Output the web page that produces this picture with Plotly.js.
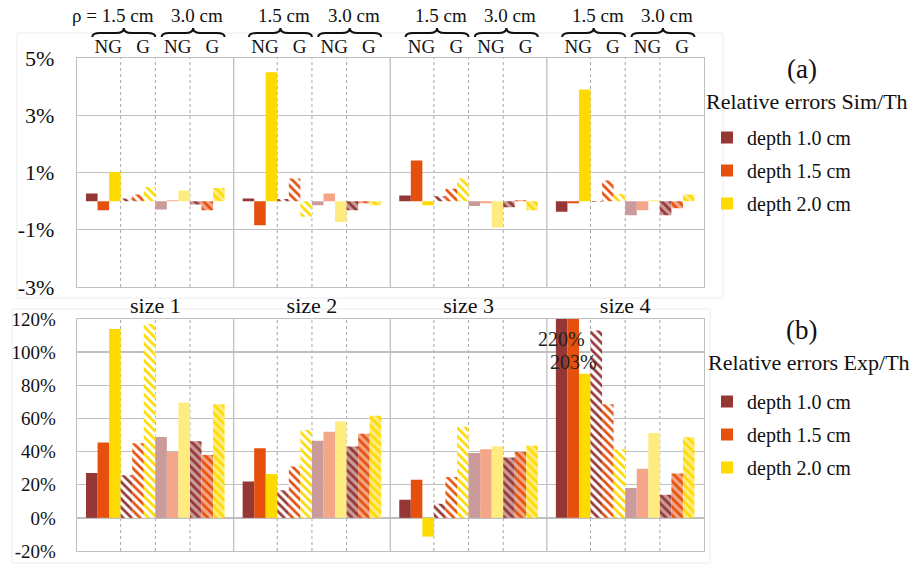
<!DOCTYPE html>
<html><head><meta charset="utf-8">
<script src="https://cdn.plot.ly/plotly-3.0.1.min.js"></script>
<style>body{margin:0;background:#fff}#chart{width:913px;height:565px}</style>
</head><body><div id="chart"></div>
<script>
// ---------- categories ----------
const sizes = ['size 1', 'size 2', 'size 3', 'size 4'];
const depths = ['depth 1.0 cm', 'depth 1.5 cm', 'depth 2.0 cm'];
const rhoLabels = ['1.5 cm', '3.0 cm'];
const subLabels = ['NG', 'G', 'NG', 'G'];

// ---------- panel (a): Relative errors Sim/Th (%) ; values for size 1..4 ----------
const simTh_r15_NG_d10 = [0.27, 0.09, 0.20, -0.37];
const simTh_r15_NG_d15 = [-0.32, -0.84, 1.42, -0.07];
const simTh_r15_NG_d20 = [1.02, 4.50, -0.14, 3.90];
const simTh_r15_G_d10  = [0.09, 0.07, 0.17, -0.03];
const simTh_r15_G_d15  = [0.23, 0.79, 0.43, 0.72];
const simTh_r15_G_d20  = [0.49, -0.55, 0.79, 0.25];
const simTh_r30_NG_d10 = [-0.29, -0.14, -0.17, -0.49];
const simTh_r30_NG_d15 = [0.03, 0.27, -0.07, -0.32];
const simTh_r30_NG_d20 = [0.37, -0.73, -0.92, 0.03];
const simTh_r30_G_d10  = [-0.12, -0.32, -0.21, -0.49];
const simTh_r30_G_d15  = [-0.32, -0.07, 0.03, -0.25];
const simTh_r30_G_d20  = [0.46, -0.14, -0.32, 0.23];

// ---------- panel (b): Relative errors Exp/Th (%) ; values for size 1..4 ----------
const expTh_r15_NG_d10 = [27, 22, 11, 220];
const expTh_r15_NG_d15 = [45.5, 42, 23, 203];
const expTh_r15_NG_d20 = [114, 26.5, -11.3, 87];
const expTh_r15_G_d10  = [25.7, 16.6, 8.5, 113];
const expTh_r15_G_d15  = [45, 31, 24.7, 68.5];
const expTh_r15_G_d20  = [117, 53, 55, 41.4];
const expTh_r30_NG_d10 = [48.8, 46.5, 39.2, 18];
const expTh_r30_NG_d15 = [39.7, 52, 41.4, 29.7];
const expTh_r30_NG_d20 = [69.4, 58.2, 43, 51.2];
const expTh_r30_G_d10  = [46.3, 43, 36.4, 14];
const expTh_r30_G_d15  = [37.9, 50.8, 39.8, 26.7];
const expTh_r30_G_d20  = [68.6, 61.6, 43.5, 48.6];

// y tick labels
const tickValsA = [-3, -1, 1, 3, 5];
const tickTextA = ['-3%', '-1%', '1%', '3%', '5%'];
const tickValsB = [-20, 0, 20, 40, 60, 80, 100, 120];
const tickTextB = ['-20%', '0%', '20%', '40%', '60%', '80%', '100%', '120%'];

// ---------- styling ----------
const W = 913, H = 565;
const FONT = 'Liberation Serif';
const colorsFull = ['#953735', '#E6500C', '#FFDA00'];
const colorsLight = ['#CA9B9A', '#F3A688', '#FFEC80'];
const GRID = '#bfbfbf';
const bargap = 0.115;
const inner = 1 - bargap;
const px2x = p => p / W;
const px2y = p => 1 - p / H;

const dataA = [
  [simTh_r15_NG_d10, simTh_r15_NG_d15, simTh_r15_NG_d20],
  [simTh_r15_G_d10, simTh_r15_G_d15, simTh_r15_G_d20],
  [simTh_r30_NG_d10, simTh_r30_NG_d15, simTh_r30_NG_d20],
  [simTh_r30_G_d10, simTh_r30_G_d15, simTh_r30_G_d20]
];
const dataB = [
  [expTh_r15_NG_d10, expTh_r15_NG_d15, expTh_r15_NG_d20],
  [expTh_r15_G_d10, expTh_r15_G_d15, expTh_r15_G_d20],
  [expTh_r30_NG_d10, expTh_r30_NG_d15, expTh_r30_NG_d20],
  [expTh_r30_G_d10, expTh_r30_G_d15, expTh_r30_G_d20]
];
const sizeIdx = sizes.map((_, i) => i);

const traces = [];
function addPanel(data, xa, ya, legendName) {
  data.forEach((sub, s) => {
    sub.forEach((vals, d) => {
      const hatched = s % 2 === 1;
      const light = s >= 2;
      const marker = { color: light ? colorsLight[d] : colorsFull[d], line: { width: 0 } };
      if (hatched) {
        marker.pattern = { shape: '\\', fgcolor: colorsFull[d], bgcolor: light ? colorsLight[d] : '#ffffff',
                           size: 6, solidity: 0.45, fillmode: 'replace' };
      }
      traces.push({
        type: 'bar', x: sizeIdx, y: vals, xaxis: xa, yaxis: ya,
        name: depths[d], showlegend: s === 0, legend: legendName,
        legendgroup: legendName + '_' + d, marker: marker, hoverinfo: 'skip'
      });
    });
  });
}
addPanel(dataA, 'x', 'y', 'legend');
addPanel(dataB, 'x2', 'y2', 'legend2');

// sub-group geometry
const subStart = (i, k) => i - 0.5 + bargap / 2 + k * inner / 4;
const subCenters = [], subTicks = [];
sizeIdx.forEach(i => subLabels.forEach((lab, k) => { subCenters.push(subStart(i, k + 0.5)); subTicks.push(lab); }));

const shapes = [];
// dotted separators between sub-groups, solid between sizes
[['x', 'y domain'], ['x2', 'y2 domain']].forEach(([xr, yr]) => {
  sizeIdx.forEach(i => {
    [1, 2, 3].forEach(k => {
      shapes.push({ type: 'line', xref: xr, yref: yr, x0: subStart(i, k), x1: subStart(i, k),
        y0: 0, y1: 1, layer: 'below', line: { color: '#a6a6a6', width: 1, dash: 'dot' } });
    });
    if (i < sizeIdx.length - 1) {
      shapes.push({ type: 'line', xref: xr, yref: yr, x0: i + 0.5, x1: i + 0.5,
        y0: 0, y1: 1, layer: 'below', line: { color: GRID, width: 1.3 } });
    }
  });
});
// braces over the rho pairs
function brace(x0, x1) {
  const yE = px2y(37), yB = px2y(33), yT = px2y(28);
  const xm = (x0 + x1) / 2, d = 0.05;
  return `M ${x0},${yE} Q ${x0},${yB} ${x0 + d},${yB} L ${xm - d},${yB} Q ${xm},${yB} ${xm},${yT} ` +
         `Q ${xm},${yB} ${xm + d},${yB} L ${x1 - d},${yB} Q ${x1},${yB} ${x1},${yE}`;
}
const annotations = [];
sizeIdx.forEach(i => {
  [0, 1].forEach(p => {
    const a = subStart(i, 2 * p) + 0.04, b = subStart(i, 2 * p + 2);
    shapes.push({ type: 'path', xref: 'x', yref: 'paper', path: brace(a, b), line: { color: '#111', width: 2 } });
    const first = (i === 0 && p === 0);
    annotations.push({ xref: 'x', yref: 'paper', x: subStart(i, 2 * p + 1), y: px2y(15),
      xanchor: 'center', yanchor: 'middle',
      text: (first ? 'ρ = ' : '') + rhoLabels[p], showarrow: false, xshift: first ? -8 : 7,
      font: { family: FONT, size: 19, color: '#111' } });
  });
});
// faint chart-area frames
shapes.push({ type: 'rect', xref: 'paper', yref: 'paper', x0: px2x(17), x1: px2x(723), y0: px2y(298), y1: px2y(33),
  line: { color: '#ececec', width: 1 }, layer: 'below' });
shapes.push({ type: 'rect', xref: 'paper', yref: 'paper', x0: px2x(12), x1: px2x(710), y0: px2y(563), y1: px2y(309),
  line: { color: '#ececec', width: 1 }, layer: 'below' });

// out-of-range value labels
[[expTh_r15_NG_d10, 0, 108], [expTh_r15_NG_d15, 1, 94]].forEach(([arr, d, yv]) => {
  annotations.push({ xref: 'x2', yref: 'y2', x: 3 - 0.5 + bargap / 2 + (d + 0.5) * inner / 12, y: yv,
    xanchor: 'center', yanchor: 'middle',
    text: arr[3] + '%', showarrow: false, font: { family: FONT, size: 20, color: '#222' } });
});
// panel titles
const paperText = (x, y, text, size, xanchor) => ({ xref: 'paper', yref: 'paper', x: px2x(x), y: px2y(y),
  xanchor: xanchor, yanchor: 'middle', text: text, showarrow: false, font: { family: FONT, size: size, color: '#111' } });
annotations.push(paperText(802, 69, '(a)', 27, 'center'));
annotations.push(paperText(704, 102, 'Relative errors Sim/Th', 22, 'left'));
annotations.push(paperText(801, 330, '(b)', 27, 'center'));
annotations.push(paperText(706, 362, 'Relative errors Exp/Th', 22, 'left'));

const xDom = [px2x(77), px2x(703.5)];
const axisCommon = { showline: true, mirror: true, linecolor: GRID, linewidth: 1.3, zeroline: false, automargin: false, fixedrange: true };
const layout = {
  width: W, height: H, margin: { l: 0, r: 0, t: 0, b: 0 },
  paper_bgcolor: '#fff', plot_bgcolor: '#fff',
  font: { family: FONT, color: '#111' },
  barmode: 'group', bargap: bargap, bargroupgap: 0,
  xaxis: Object.assign({}, axisCommon, { domain: xDom, anchor: 'y', range: [-0.5, 3.5], side: 'top',
    tickmode: 'array', tickvals: subCenters, ticktext: subTicks, ticks: '', showgrid: false,
    ticklabelshift: 5, ticklabelstandoff: -4, tickfont: { family: FONT, size: 19, color: '#111' } }),
  yaxis: Object.assign({}, axisCommon, { domain: [px2y(287), px2y(58)], anchor: 'x', range: [-3, 5],
    tickmode: 'array', tickvals: tickValsA, ticktext: tickTextA, showgrid: true, gridcolor: GRID, gridwidth: 1.3,
    ticks: '', ticklabelstandoff: 17, tickfont: { family: FONT, size: 22, color: '#111' } }),
  xaxis2: Object.assign({}, axisCommon, { domain: xDom, anchor: 'y2', range: [-0.5, 3.5], side: 'top',
    tickmode: 'array', tickvals: sizeIdx, ticktext: sizes, ticks: '', showgrid: false,
    ticklabelstandoff: -4, tickfont: { family: FONT, size: 22, color: '#111' } }),
  yaxis2: Object.assign({}, axisCommon, { domain: [px2y(551), px2y(319)], anchor: 'x2', range: [-20, 120],
    tickmode: 'array', tickvals: tickValsB, ticktext: tickTextB, showgrid: true, gridcolor: GRID, gridwidth: 1.3,
    ticks: '', ticklabelstandoff: 16, tickfont: { family: FONT, size: 19, color: '#111' } }),
  legend: { x: px2x(707), y: px2y(118), xanchor: 'left', yanchor: 'top', bgcolor: 'rgba(0,0,0,0)',
    font: { family: FONT, size: 20, color: '#111' }, tracegroupgap: 4, traceorder: 'grouped' },
  legend2: { x: px2x(707), y: px2y(382), xanchor: 'left', yanchor: 'top', bgcolor: 'rgba(0,0,0,0)',
    font: { family: FONT, size: 20, color: '#111' }, tracegroupgap: 4, traceorder: 'grouped' },
  shapes: shapes, annotations: annotations
};
Plotly.newPlot('chart', traces, layout, { displayModeBar: false, staticPlot: true });
</script></body></html>
